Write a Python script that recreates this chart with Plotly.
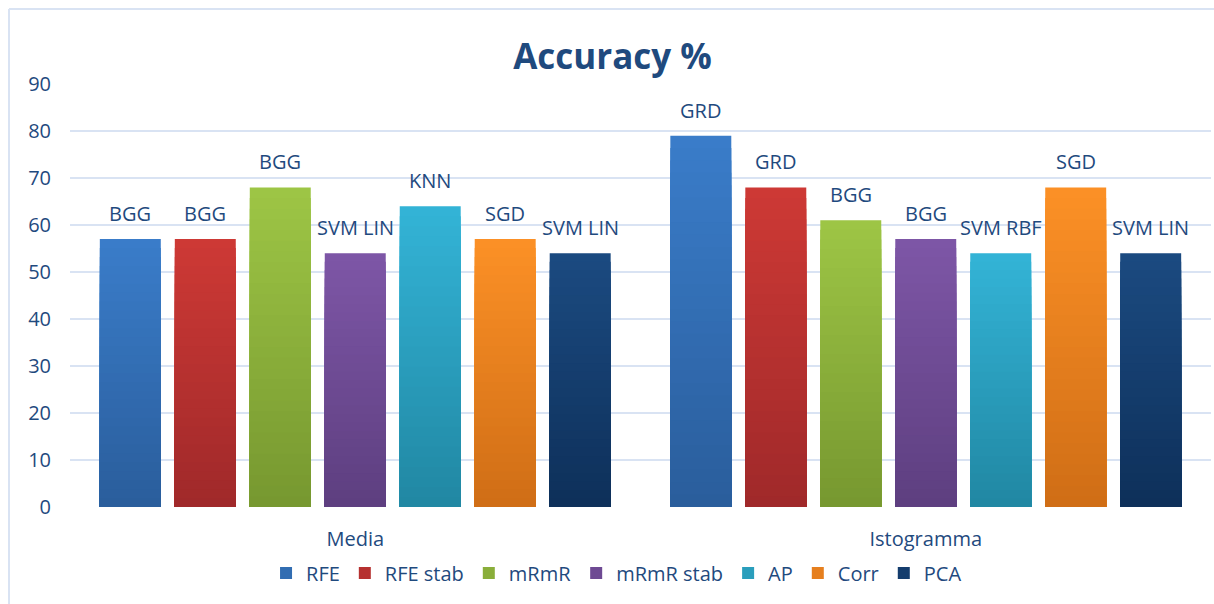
import plotly.graph_objects as go

# Data
groups = ["Media", "Istogramma"]
methods = ["RFE", "RFE stab", "mRmR", "mRmR stab", "AP", "Corr", "PCA"]
media_acc = [57, 57, 68, 54, 64, 57, 54]
isto_acc = [79, 68, 61, 57, 54, 68, 54]
media_clf = ["BGG", "BGG", "BGG", "SVM LIN", "KNN", "SGD", "SVM LIN"]
isto_clf = ["GRD", "GRD", "BGG", "BGG", "SVM RBF", "SGD", "SVM LIN"]
y_ticks = list(range(0, 100, 10))

# Styling: gradient from top colour to bottom colour per series
top_cols = ["#3A7CC9", "#CD3935", "#9DC545", "#7D56A6", "#33B3D6", "#FB9026", "#1B4A80"]
bot_cols = ["#2A5E9C", "#A0292A", "#779830", "#5E3F80", "#2188A3", "#D06E16", "#0E305A"]
TXT = "#1F4A7E"
FONT = "Open Sans"
BARGAP = 0.08
GROUPGAP = 0.187
N_SLICES = 30


def hex2rgb(h):
    h = h.lstrip("#")
    return [int(h[i:i + 2], 16) for i in (0, 2, 4)]


def mix(c1, c2, t):
    a, b = hex2rgb(c1), hex2rgb(c2)
    return "rgb({},{},{})".format(*[round(a[j] + (b[j] - a[j]) * t) for j in range(3)])


fig = go.Figure()

for i, m in enumerate(methods):
    vals = [media_acc[i], isto_acc[i]]
    # overlaid bars of shrinking height give a vertical colour gradient
    for k in range(N_SLICES):
        frac = (N_SLICES - k) / N_SLICES
        fig.add_trace(go.Bar(
            x=groups, y=[v * frac for v in vals],
            offsetgroup=str(i), legendgroup=m, showlegend=False,
            marker=dict(color=mix(top_cols[i], bot_cols[i], k / (N_SLICES - 1)), line=dict(width=0)),
            hoverinfo="skip",
        ))
    # legend entry
    fig.add_trace(go.Bar(
        x=groups, y=[None, None], name=m, offsetgroup=str(i), legendgroup=m,
        marker=dict(color=mix(top_cols[i], bot_cols[i], 0.5), line=dict(width=0)),
    ))

# classifier names above each bar
slot = (1 - BARGAP) / len(methods)
annotations = []
for g, (accs, clfs) in enumerate([(media_acc, media_clf), (isto_acc, isto_clf)]):
    for i in range(len(methods)):
        annotations.append(dict(
            x=g + (i - (len(methods) - 1) / 2) * slot, y=accs[i], xref="x", yref="y",
            text=clfs[i], showarrow=False, yanchor="bottom", yshift=10,
            font=dict(family=FONT, size=20, color=TXT),
        ))

# chart frame (left and top edges)
fx = (9 - 70) / 1141
fy = (507 - 9) / 423
frame = [
    dict(type="line", xref="paper", yref="paper", x0=fx, x1=1.2, y0=fy, y1=fy,
         line=dict(color="#D9E3F3", width=2), layer="below"),
    dict(type="line", xref="paper", yref="paper", x0=fx, x1=fx, y0=-0.5, y1=fy,
         line=dict(color="#D9E3F3", width=2), layer="below"),
]

fig.update_layout(
    width=1214, height=604,
    margin=dict(l=70, r=3, t=84, b=97),
    paper_bgcolor="white", plot_bgcolor="white",
    barmode="group", bargap=BARGAP, bargroupgap=GROUPGAP,
    title=dict(text="<b>Accuracy %</b>", x=(612.5 - 70) / 1141, xanchor="center", xref="paper",
               y=1 - 57 / 604, yanchor="middle",
               font=dict(family=FONT, size=35, color=TXT)),
    font=dict(family=FONT, size=20, color=TXT),
    xaxis=dict(showgrid=False, showline=False, zeroline=False, ticks="",
               ticklabelstandoff=18, tickfont=dict(size=20, color=TXT)),
    yaxis=dict(range=[0, 90], tickvals=y_ticks, showgrid=True, gridcolor="#D9E3F3",
               gridwidth=1.5, zeroline=False, showline=False, ticks="",
               ticklabelstandoff=18, tickfont=dict(size=20, color=TXT)),
    legend=dict(orientation="h", x=0.479, xanchor="center", y=-0.156, yanchor="middle",
                font=dict(size=20, color=TXT), itemclick=False, traceorder="normal"),
    annotations=annotations,
    shapes=frame,
)

fig.write_html("out.html")
